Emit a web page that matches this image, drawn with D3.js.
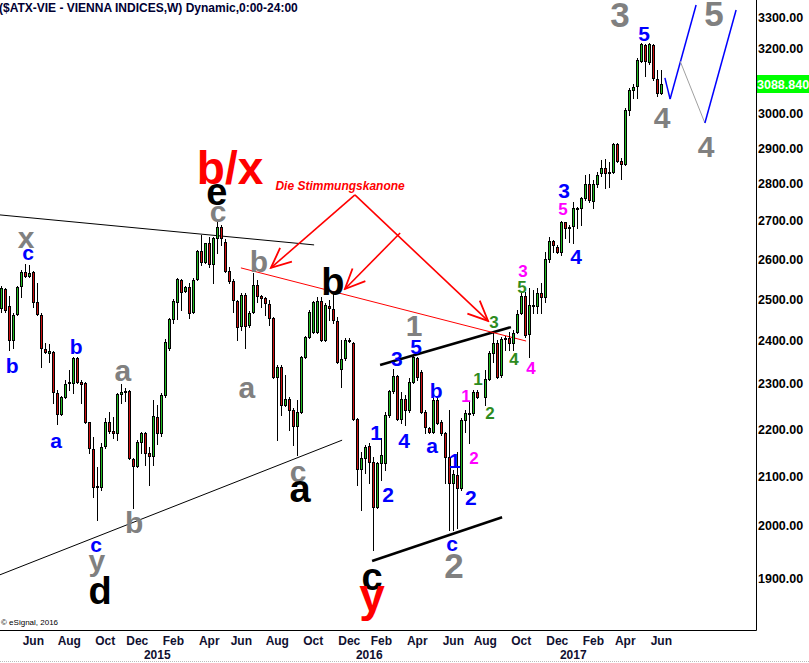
<!DOCTYPE html>
<html><head><meta charset="utf-8">
<script src="https://cdn.jsdelivr.net/npm/d3@7"></script>
<style>body{margin:0;background:#fff}svg{display:block;font-family:"Liberation Sans",Arial,sans-serif}</style>
</head><body><svg id="c" width="809" height="663"></svg>
<script>
// ---------- data ----------
const firstWeek = "2014-04-07";
const lastWeek = "2017-06-05";
const opens = [2478,2525,2483,2401,2463,2532,2567,2557,2567,2493,2461,2380,2371,2373,2279,2233,2270,2302,2302,2359,2304,2302,2215,2157,2080,2078,2163,2215,2195,2191,2277,2281,2284,2136,2121,2172,2191,2148,2142,2226,2191,2275,2382,2451,2493,2547,2520,2530,2468,2550,2621,2593,2642,2588,2655,2684,2644,2570,2545,2495,2435,2510,2437,2468,2535,2508,2502,2488,2454,2315,2338,2252,2266,2241,2206,2237,2361,2408,2420,2420,2495,2401,2483,2475,2447,2334,2359,2399,2394,2222,2115,2138,2163,2130,2037,2127,2127,2230,2284,2318,2222,2266,2241,2304,2359,2327,2237,2202,2193,2264,2215,2191,2140,2086,2103,2076,2219,2233,2235,2281,2270,2311,2371,2394,2320,2404,2406,2394,2420,2466,2508,2415,2483,2483,2515,2505,2601,2647,2632,2619,2697,2681,2686,2732,2735,2762,2800,2754,2800,2830,2844,2830,2833,2912,2864,2855,3011,3071,3084,3160,3210,3157,3210,3105,3062];
const highs = [2532,2527,2508,2466,2532,2572,2588,2585,2570,2540,2466,2394,2392,2375,2286,2272,2309,2331,2361,2361,2309,2304,2215,2183,2119,2170,2224,2237,2226,2279,2300,2290,2286,2138,2176,2193,2193,2161,2264,2252,2279,2404,2454,2500,2552,2550,2532,2540,2552,2624,2663,2642,2658,2658,2697,2689,2652,2580,2550,2498,2515,2515,2471,2565,2547,2510,2505,2498,2456,2343,2343,2320,2270,2246,2264,2364,2410,2473,2495,2505,2505,2490,2498,2517,2456,2401,2406,2406,2397,2224,2151,2165,2170,2140,2130,2181,2237,2286,2334,2320,2281,2275,2313,2366,2361,2331,2241,2204,2268,2268,2219,2193,2241,2113,2151,2224,2241,2259,2286,2286,2331,2375,2418,2401,2408,2411,2420,2425,2473,2515,2517,2527,2522,2527,2540,2619,2658,2650,2637,2700,2697,2689,2751,2737,2764,2825,2827,2811,2833,2867,2869,2861,2915,2915,2872,3017,3077,3090,3169,3217,3213,3217,3213,3132,3132];
const lows = [2468,2468,2378,2382,2461,2505,2555,2555,2480,2461,2338,2371,2350,2257,2211,2230,2268,2286,2279,2302,2257,2213,2148,2057,2011,2072,2159,2191,2181,2176,2257,2261,2136,2035,2119,2148,2124,2082,2124,2168,2185,2270,2378,2442,2451,2473,2517,2454,2466,2547,2585,2590,2580,2540,2616,2637,2567,2540,2468,2401,2425,2382,2432,2466,2493,2480,2461,2437,2313,2176,2230,2250,2198,2165,2144,2235,2359,2406,2418,2418,2399,2399,2449,2442,2348,2293,2355,2397,2219,2082,2031,2107,2086,1953,2035,2092,2113,2226,2279,2219,2213,2209,2237,2302,2309,2235,2191,2191,2191,2211,2187,2086,1992,1992,1996,2072,2193,2170,2230,2268,2252,2309,2350,2313,2315,2378,2378,2378,2418,2463,2408,2361,2466,2466,2466,2493,2593,2619,2616,2611,2655,2644,2642,2681,2689,2756,2751,2735,2792,2822,2789,2792,2830,2861,2814,2853,2996,3047,3047,3157,3113,3150,3101,3053,3059];
const closes = [2527,2473,2401,2461,2530,2567,2557,2565,2493,2463,2382,2373,2375,2281,2233,2270,2299,2304,2359,2304,2300,2215,2159,2078,2078,2161,2215,2195,2191,2277,2281,2284,2138,2121,2172,2191,2148,2142,2228,2191,2275,2396,2451,2495,2550,2517,2530,2466,2547,2621,2593,2642,2588,2655,2684,2655,2570,2545,2498,2432,2510,2435,2466,2535,2508,2502,2490,2454,2315,2338,2252,2266,2241,2206,2237,2361,2408,2468,2493,2495,2401,2485,2478,2449,2350,2357,2401,2401,2222,2115,2138,2161,2130,2037,2127,2144,2230,2284,2318,2222,2266,2241,2304,2361,2315,2237,2204,2193,2264,2213,2191,2140,2086,2105,2076,2219,2235,2235,2281,2270,2311,2371,2394,2315,2404,2406,2394,2418,2463,2508,2413,2485,2485,2515,2505,2601,2647,2637,2619,2697,2681,2684,2735,2735,2762,2800,2756,2800,2825,2844,2830,2833,2912,2864,2855,3011,3071,3081,3163,3213,3160,3213,3107,3062,3088.84];
const missingSlot = 120;

const priceTicks = [1900,2000,2100,2200,2300,2400,2500,2600,2700,2800,2900,3000,3200,3300];
const lastPrice = 3088.84;
const monthTickDates = ["2014-06-02","2014-08-04","2014-10-06","2014-12-01","2015-02-02","2015-04-06","2015-06-01","2015-08-03","2015-10-05","2015-12-07","2016-02-01","2016-04-04","2016-06-06","2016-08-01","2016-10-03","2016-12-05","2017-02-06","2017-04-03","2017-06-05"];
const monthTickLabels = ["Jun","Aug","Oct","Dec","Feb","Apr","Jun","Aug","Oct","Dec","Feb","Apr","Jun","Aug","Oct","Dec","Feb","Apr","Jun"];
const yearTickDates = ["2015-01-05","2016-01-11","2017-01-02"];
const yearTickLabels = ["2015","2016","2017"];

// wave labels: text, week offset from first week, price, style kind
const labelText = ["x","c","b","b","a","a","c","y","d","b","b/x","e","c","b","a","b","c","a","1","5","3","1","4","2","b","a","1","2","c","c","y","2","1","2","1","2","3","4","4","3","5","3","5","4","5","3","4","4","5"];
const labelWeek = [6.2,6.7,2.7,18.7,13.7,30.4,23.7,23.9,24.7,33.2,57.2,53.9,54.2,64.4,61.4,82.9,74.2,74.7,103.2,103.7,98.9,93.7,100.7,96.7,108.7,107.7,113.4,117.4,112.7,92.7,92.7,113.2,116.2,118.2,119.2,122.2,123.2,128.2,132.4,130.4,130.2,140.7,140.4,143.7,160.7,154.7,165.2,176.2,178.2];
const labelPrice = [2650,2611,2343,2387,2172,2325,1959,1922,1878,2007,2847,2770,2718,2595,2286,2545,2105,2068,2437,2387,2359,2193,2176,2063,2286,2161,2134,2057,1961,1896,1852,1924,2273,2138,2311,2235,2444,2357,2336,2570,2530,2783,2732,2606,3248,3310,2991,2907,3313];
const labelKind = ["G","B","B","B","B","G","B","G","K","G","R","K","G","G","G","K","G","K","G","B","B","B","B","B","B","B","B","B","B","K","R","GL","M","M","N","N","N","N","M","M","N","B","M","B","B","GL","G","G","GL"];

// drawn lines: [week1, price1, week2, price2], kind
const lineW1 = [-0.33,-0.33,94.7,92.7,59.9,88.4,88.4,99.7,165.9,167.2,169.7,175.9];
const lineP1 = [2716,1906,2343,1932,2578,2770,2770,2668,3108,3044,3160,2973];
const lineW2 = [78.2,85.2,127.4,125.2,131.2,67.4,121.7,85.9,167.2,173.7,175.9,183.7];
const lineP2 = [2637,2176,2432,2017,2399,2578,2447,2525,3044,3339,2973,3323];
const lineKind = ["k1","k1","k2","k2","r1","ra","ra","ra","b","b","g","b"];
const noteText = "Die Stimmungskanone";
const noteWeek = 84.7, notePrice = 2794;

// ---------- chart ----------
const svg = d3.select("#c");
const W = 809, H = 663, plotR = 756, plotB = 630;
const parse = d3.timeParse("%Y-%m-%d");
const t0 = parse(firstWeek), t1 = parse(lastWeek);
const x = d3.scaleTime().domain([t0, t1]).range([1.3, 661.3]);
const y = d3.scaleLog().domain([1900, 3300]).range([578, 17]);
const weekDate = w => new Date(t0.getTime() + w * 7 * 864e5);

const candles = opens.map((o, i) => {
  const slot = i < missingSlot ? i : i + 1;
  return {d: weekDate(slot), o, h: highs[i], l: lows[i], c: closes[i]};
});

// frame
svg.append("line").attr("x1",0).attr("x2",plotR+0.5).attr("y1",plotB+0.5).attr("y2",plotB+0.5).attr("stroke","#000");
svg.append("line").attr("x1",plotR+0.5).attr("x2",plotR+0.5).attr("y1",0).attr("y2",plotB+0.5).attr("stroke","#000");
svg.append("line").attr("x1",0).attr("x2",W).attr("y1",661.5).attr("y2",661.5).attr("stroke","#bbb").attr("stroke-dasharray","1,1");

// title
svg.append("text").attr("x",-1).attr("y",12).attr("font-size",12).attr("font-weight","bold").attr("fill","#000033")
  .text("($ATX-VIE - VIENNA INDICES,W) Dynamic,0:00-24:00");
svg.append("text").attr("x",1).attr("y",625).attr("font-size",8).attr("fill","#000").text("© eSignal, 2016");

// price axis
svg.append("g").selectAll("text").data(priceTicks).join("text")
  .attr("x",758).attr("y",d=>y(d)+4.5).attr("font-size",12.5).attr("font-weight","bold").attr("fill","#000")
  .text(d=>d3.format(".2f")(d));
svg.append("rect").attr("x",757).attr("y",Math.round(y(lastPrice))-9).attr("width",52).attr("height",18).attr("fill","#00ff00");
svg.append("text").attr("x",757).attr("y",y(lastPrice)+4.5).attr("font-size",12.5).attr("font-weight","bold").attr("fill","#fff")
  .text(d3.format(".3f")(lastPrice));

// time axis
svg.append("g").selectAll("text").data(monthTickDates).join("text")
  .attr("x",d=>x(parse(d))).attr("y",645).attr("text-anchor","middle").attr("font-size",12).attr("font-weight","bold").attr("fill","#101030")
  .text((d,i)=>monthTickLabels[i]);
svg.append("g").selectAll("text").data(yearTickDates).join("text")
  .attr("x",d=>x(parse(d))).attr("y",659).attr("text-anchor","middle").attr("font-size",12).attr("font-weight","bold").attr("fill","#101030")
  .text((d,i)=>yearTickLabels[i]);

// lines
const lineStyle = {k1:{c:"#000",w:1}, k2:{c:"#000",w:2.5}, r1:{c:"#ff0000",w:1}, ra:{c:"#ff0000",w:1.6}, b:{c:"#0000ff",w:1.5}, g:{c:"#a0a0a0",w:1}};
const defs = svg.append("defs");
defs.append("marker").attr("id","arr").attr("markerUnits","userSpaceOnUse").attr("viewBox","-22 -12 24 24")
  .attr("refX",0).attr("refY",0).attr("markerWidth",24).attr("markerHeight",24).attr("orient","auto")
  .append("path").attr("d","M-20,-9 L0,0 L-20,9").attr("fill","none").attr("stroke","#ff0000").attr("stroke-width",1.8);
svg.append("g").selectAll("line").data(lineKind).join("line")
  .attr("x1",(k,i)=>x(weekDate(lineW1[i]))).attr("y1",(k,i)=>y(lineP1[i]))
  .attr("x2",(k,i)=>x(weekDate(lineW2[i]))).attr("y2",(k,i)=>y(lineP2[i]))
  .attr("stroke",k=>lineStyle[k].c).attr("stroke-width",k=>lineStyle[k].w)
  .attr("marker-end",k=>k==="ra"?"url(#arr)":null);

// candles
const cg = svg.append("g").attr("shape-rendering","crispEdges");
candles.forEach(c => {
  const cx = Math.round(x(c.d));
  cg.append("line").attr("x1",cx+0.5).attr("x2",cx+0.5).attr("y1",Math.round(y(c.h))).attr("y2",Math.round(y(c.l))+1).attr("stroke","#000");
  const top = Math.round(y(Math.max(c.o,c.c))), bot = Math.round(y(Math.min(c.o,c.c)));
  cg.append("rect").attr("x",cx-0.5).attr("y",top+0.5).attr("width",2).attr("height",Math.max(bot-top,1))
    .attr("fill", c.c >= c.o ? "#22bb22" : "#cc1111").attr("stroke","#000").attr("stroke-width",1);
});

// note
svg.append("text").attr("x",x(weekDate(noteWeek))).attr("y",y(notePrice)+4).attr("text-anchor","middle")
  .attr("font-size",12).attr("font-weight","bold").attr("font-style","italic").attr("fill","#ff0000").text(noteText);

// wave labels
const kindStyle = {G:{c:"#808080",s:30}, GL:{c:"#808080",s:35}, K:{c:"#000",s:38}, R:{c:"#ff0000",s:46}, B:{c:"#0000ff",s:21}, M:{c:"#ff00ff",s:17}, N:{c:"#2e8b1e",s:17}};
const baseK = t => /^[0-9bd]/.test(t) ? 0.36 : (t === "y" ? 0.16 : 0.26);
svg.append("g").selectAll("text").data(labelText).join("text")
  .attr("x",(t,i)=>x(weekDate(labelWeek[i])))
  .attr("y",(t,i)=>y(labelPrice[i]) + baseK(t)*kindStyle[labelKind[i]].s)
  .attr("text-anchor","middle").attr("font-weight","bold")
  .attr("font-size",(t,i)=>kindStyle[labelKind[i]].s)
  .attr("fill",(t,i)=>kindStyle[labelKind[i]].c)
  .text(t=>t);
</script></body></html>
